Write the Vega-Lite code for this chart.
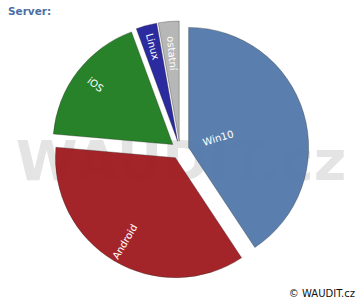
{
  "$schema": "https://vega.github.io/schema/vega-lite/v6.json",
  "width": 360,
  "height": 300,
  "padding": 0,
  "autosize": {"type": "fit", "contains": "padding"},
  "background": "white",
  "config": {"view": {"stroke": null}},
  "layer": [
    {
      "data": {"values": [{}]},
      "mark": {"type": "text", "text": "WAUDIT.cz", "font": "DejaVu Sans", "fontWeight": "bold", "fontSize": 56, "color": "#e4e4e4", "align": "center", "baseline": "alphabetic", "x": 181, "y": 180},
      "encoding": {}
    },
    {
      "data": {"name": "shares"},
      "transform": [
        {"window": [{"op": "row_number", "as": "idx"}]},
        {"stack": "share", "groupby": [], "sort": [{"field": "idx", "order": "ascending"}], "as": ["s0", "s1"]},
        {"calculate": "(datum.s0 + datum.s1) / 2", "as": "mid"}
      ],
      "layer": [
        {
          "mark": {
            "type": "arc",
            "outerRadius": 120,
            "fillOpacity": 0.95,
            "stroke": "#222",
            "strokeOpacity": 0.45,
            "strokeWidth": 0.7,
            "x": {"expr": "width/2 + 9*sin(datum.mid*PI/50)"},
            "y": {"expr": "height/2 - 9*cos(datum.mid*PI/50)"}
          },
          "encoding": {
            "theta": {"field": "s0", "type": "quantitative", "scale": {"domain": [0, 100]}},
            "theta2": {"field": "s1"},
            "color": {
              "field": "os",
              "type": "nominal",
              "scale": {"domain": ["Win10", "Android", "iOS", "Linux", "ostatní"], "range": ["#5178aa", "#9f191d", "#1b7b1e", "#20209a", "#b3b3b3"]},
              "legend": null
            }
          }
        },
        {
          "transform": [{"filter": "datum.os == 'Win10'"}],
          "mark": {
            "type": "text",
            "radius": 31,
            "font": "DejaVu Sans",
            "fontSize": 10,
            "color": "white",
            "align": "center",
            "baseline": "middle",
            "x": {"expr": "width/2 + 9*sin(datum.mid*PI/50)"},
            "y": {"expr": "height/2 - 9*cos(datum.mid*PI/50)"},
            "angle": {"expr": "datum.mid < 50 ? datum.mid*3.6 - 90 : datum.mid*3.6 - 270"}
          },
          "encoding": {
            "theta": {"field": "mid", "type": "quantitative", "stack": false, "scale": {"domain": [0, 100]}},
            "text": {"field": "os"}
          }
        },
        {
          "transform": [{"filter": "datum.os == 'ostatní'"}],
          "mark": {
            "type": "text",
            "radius": 88,
            "font": "DejaVu Sans",
            "fontSize": 10,
            "color": "white",
            "align": "center",
            "baseline": "middle",
            "x": {"expr": "width/2 + 9*sin(datum.mid*PI/50)"},
            "y": {"expr": "height/2 - 9*cos(datum.mid*PI/50)"},
            "angle": {"expr": "datum.mid < 50 ? datum.mid*3.6 - 90 : datum.mid*3.6 - 270"}
          },
          "encoding": {
            "theta": {"field": "mid", "type": "quantitative", "stack": false, "scale": {"domain": [0, 100]}},
            "text": {"field": "os"}
          }
        },
        {
          "transform": [{"filter": "datum.os != 'Win10' && datum.os != 'ostatní'"}],
          "mark": {
            "type": "text",
            "radius": 98,
            "font": "DejaVu Sans",
            "fontSize": 10,
            "color": "white",
            "align": "center",
            "baseline": "middle",
            "x": {"expr": "width/2 + 9*sin(datum.mid*PI/50)"},
            "y": {"expr": "height/2 - 9*cos(datum.mid*PI/50)"},
            "angle": {"expr": "datum.mid < 50 ? datum.mid*3.6 - 90 : datum.mid*3.6 - 270"}
          },
          "encoding": {
            "theta": {"field": "mid", "type": "quantitative", "stack": false, "scale": {"domain": [0, 100]}},
            "text": {"field": "os"}
          }
        }
      ]
    },
    {
      "data": {"values": [{}]},
      "mark": {"type": "text", "text": "Server:", "font": "DejaVu Sans", "fontWeight": "bold", "fontSize": 10.5, "color": "#4a6fa5", "align": "left", "baseline": "alphabetic", "x": 8, "y": 15},
      "encoding": {}
    },
    {
      "data": {"values": [{}]},
      "mark": {"type": "text", "text": "© WAUDIT.cz", "font": "DejaVu Sans", "fontSize": 10, "color": "#111", "align": "right", "baseline": "alphabetic", "x": 355, "y": 297},
      "encoding": {}
    }
  ],
  "datasets": {
    "shares": [
      {"os": "Win10", "share": 40.7},
      {"os": "Android", "share": 35.7},
      {"os": "iOS", "share": 18.0},
      {"os": "Linux", "share": 2.8},
      {"os": "ostatní", "share": 2.8}
    ]
  }
}
